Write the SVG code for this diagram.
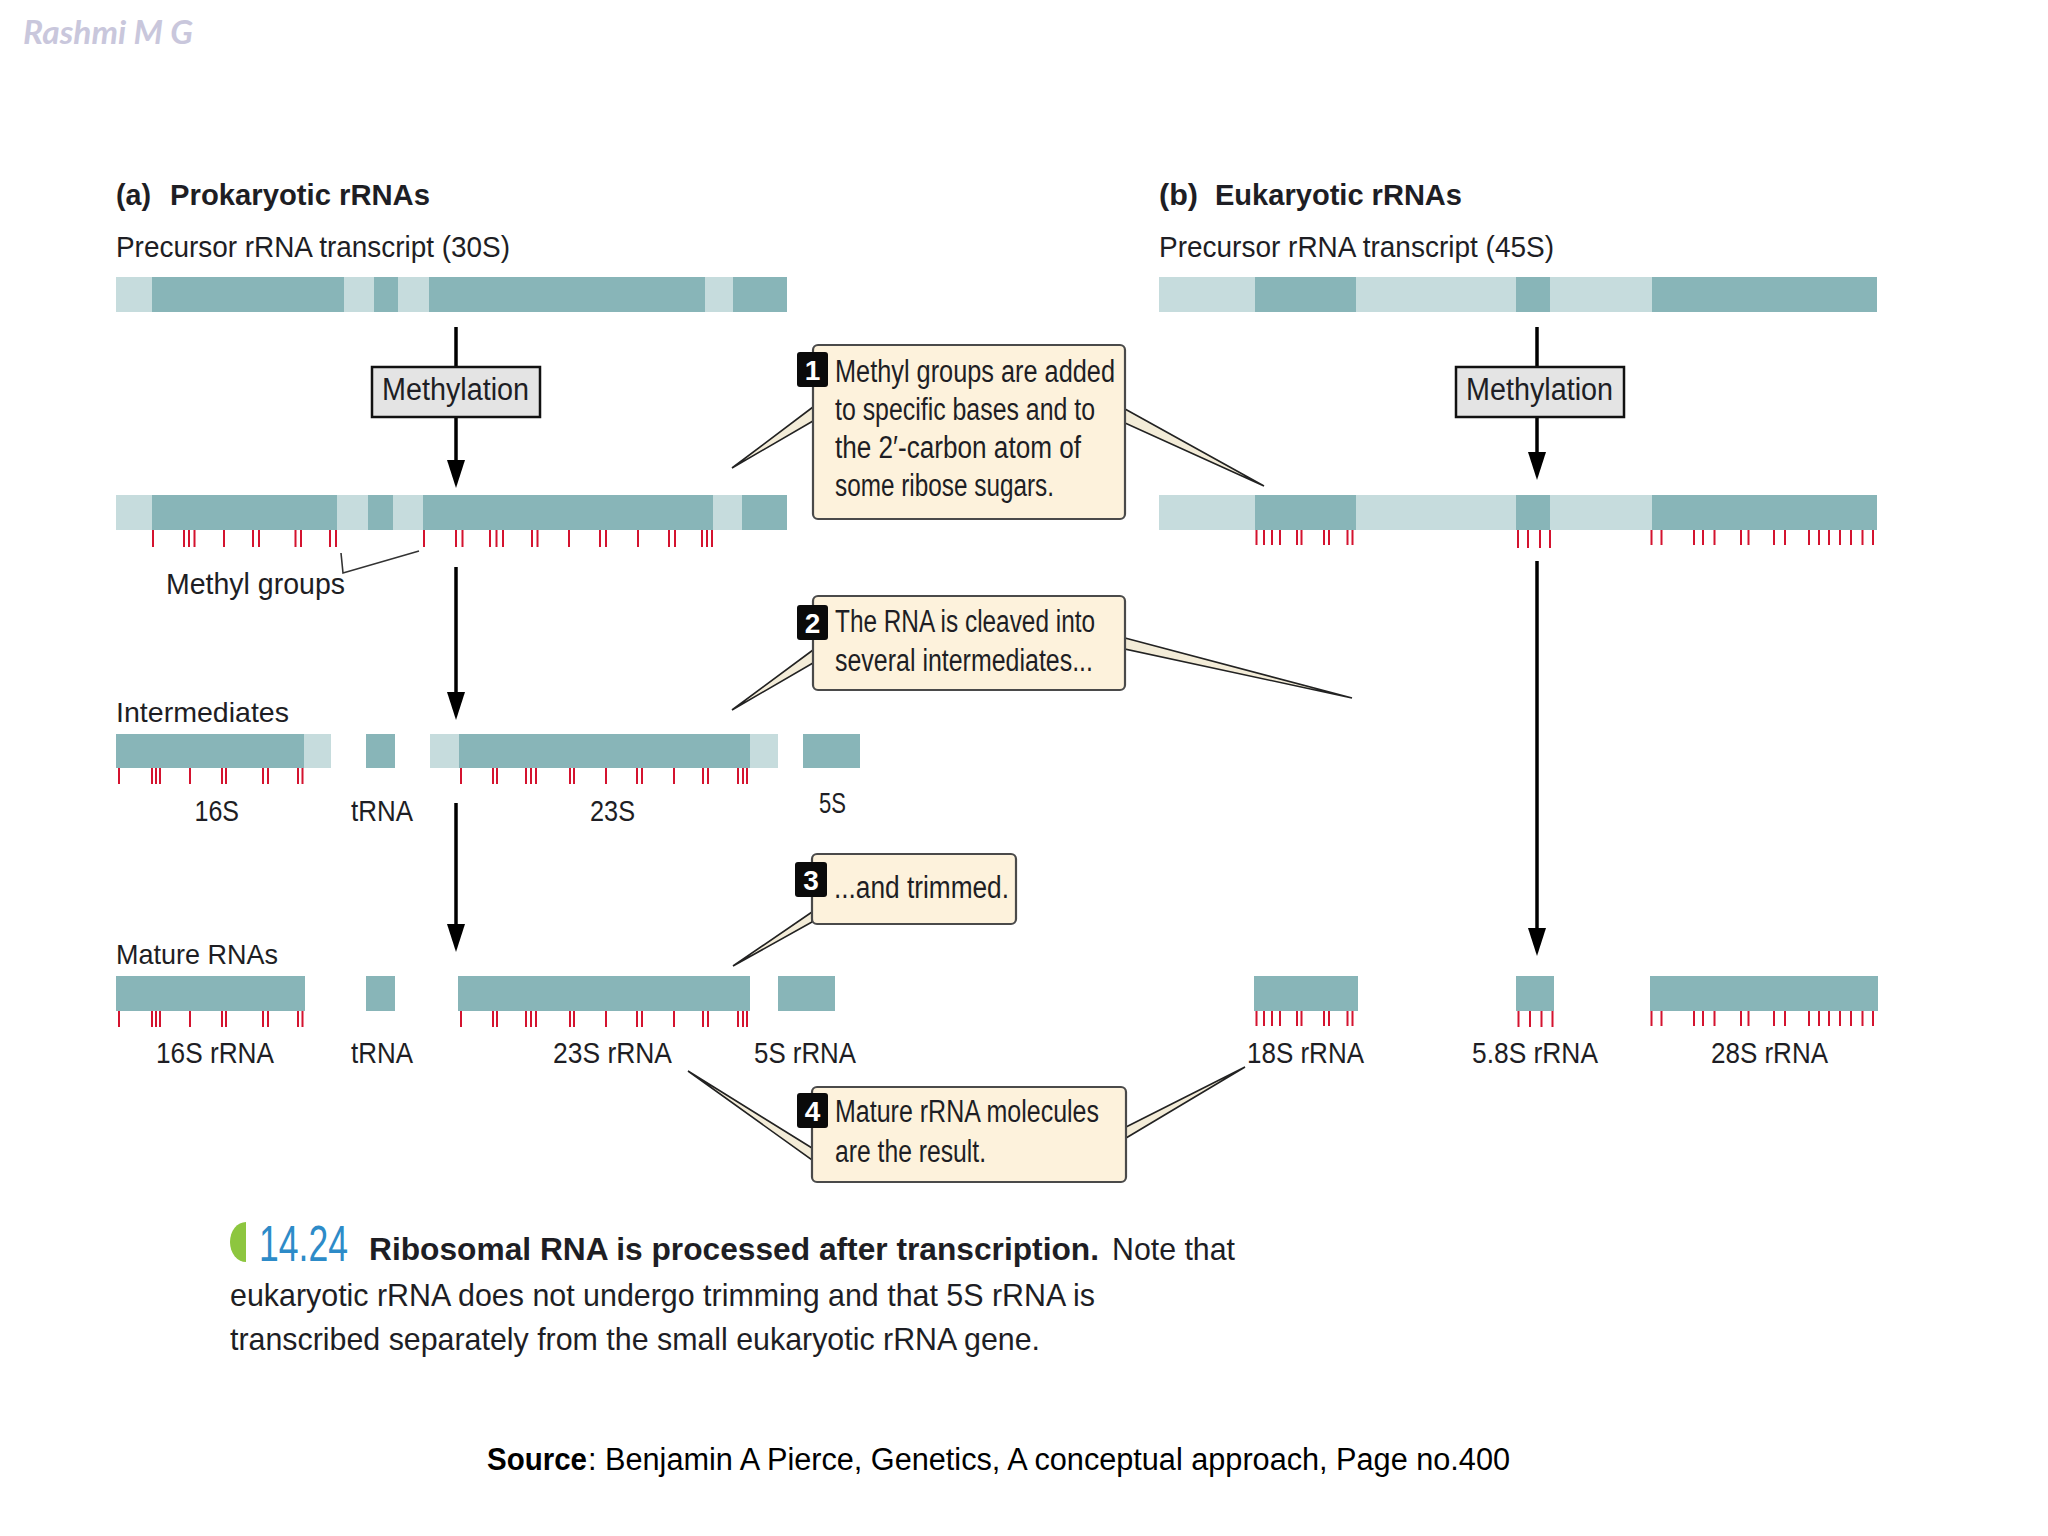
<svg xmlns="http://www.w3.org/2000/svg" width="2048" height="1536" viewBox="0 0 2048 1536">
<defs>
<style>
.dk{fill:#88b5b8}
.lt{fill:#c6dcdd}
.tk{stroke:#d4132f;stroke-width:2;fill:none}
.t{font-family:"Liberation Sans",Arial,sans-serif;fill:#1e1e24}
.b{font-weight:bold}
.arr{stroke:#000;stroke-width:3.5;fill:none}
.mbox{fill:#e4e4e4;stroke:#111;stroke-width:2.5}
.cbox{fill:#fdf2dc;stroke:#4a4a4a;stroke-width:2.2}
.badge{fill:#0a0a0a}
.bn{font-family:"Liberation Sans",Arial,sans-serif;font-weight:bold;fill:#fff;font-size:28px}
.wedge{fill:#f3ecd8;stroke:#222;stroke-width:1.6;stroke-linejoin:miter}
</style>
<marker id="ah" markerUnits="userSpaceOnUse" markerWidth="18" markerHeight="28" viewBox="0 0 18 28" refX="9" refY="8" orient="0">
<path d="M0,0 L18,0 L9,28 Z" fill="#000"/>
</marker>
</defs>
<rect width="2048" height="1536" fill="#fff"/>

<!-- watermark -->
<text x="23" y="44" font-family="Lato,'Liberation Sans',sans-serif" font-weight="bold" font-style="italic" font-size="32" fill="#c9c7dc" textLength="170" lengthAdjust="spacingAndGlyphs">Rashmi M G</text>

<!-- titles -->
<g id="title-a">
<text class="t b" x="116" y="205" font-size="30" textLength="35" lengthAdjust="spacingAndGlyphs">(a)</text>
<text class="t b" x="170" y="205" font-size="30" textLength="260" lengthAdjust="spacingAndGlyphs">Prokaryotic rRNAs</text>
<text class="t" x="116" y="257" font-size="30" textLength="394" lengthAdjust="spacingAndGlyphs">Precursor rRNA transcript (30S)</text>
</g>
<g id="title-b">
<text class="t b" x="1159" y="205" font-size="30" textLength="39" lengthAdjust="spacingAndGlyphs">(b)</text>
<text class="t b" x="1215" y="205" font-size="30" textLength="247" lengthAdjust="spacingAndGlyphs">Eukaryotic rRNAs</text>
<text class="t" x="1159" y="257" font-size="30" textLength="395" lengthAdjust="spacingAndGlyphs">Precursor rRNA transcript (45S)</text>
</g>

<!-- prokaryotic precursor -->
<g id="prok-precursor">
<rect class="lt" x="116" y="277" width="671" height="35"/>
<rect class="dk" x="152" y="277" width="192" height="35"/>
<rect class="dk" x="374" y="277" width="24" height="35"/>
<rect class="dk" x="429" y="277" width="276" height="35"/>
<rect class="dk" x="733" y="277" width="54" height="35"/>
</g>

<!-- prokaryotic methylated -->
<g id="prok-methylated">
<rect class="lt" x="116" y="495" width="671" height="35"/>
<rect class="dk" x="152" y="495" width="185" height="35"/>
<rect class="dk" x="368" y="495" width="25" height="35"/>
<rect class="dk" x="423" y="495" width="290" height="35"/>
<rect class="dk" x="742" y="495" width="45" height="35"/>
<path class="tk" d="M153,530V547M184,530V547M189,530V547M194.5,530V547M224,530V547M253,530V547M259,530V547M295.5,530V547M301,530V547M330,530V547M336,530V547M424,530V547M456,530V547M462.5,530V547M490,530V547M496.5,530V547M503,530V547M532,530V547M537.5,530V547M569,530V547M600,530V547M606,530V547M638,530V547M669,530V547M675,530V547M702,530V547M707,530V547M712,530V547"/>
<path d="M341,553 L343,573 L419,551" fill="none" stroke="#333" stroke-width="1.6"/>
<text class="t" x="166" y="594" font-size="29" textLength="179" lengthAdjust="spacingAndGlyphs">Methyl groups</text>
</g>

<!-- prokaryotic intermediates -->
<g id="prok-intermediates">
<text class="t" x="116" y="722" font-size="28" textLength="173" lengthAdjust="spacingAndGlyphs">Intermediates</text>
<rect class="dk" x="116" y="734" width="188" height="34"/>
<rect class="lt" x="304" y="734" width="27" height="34"/>
<rect class="dk" x="366" y="734" width="29" height="34"/>
<rect class="lt" x="430" y="734" width="29" height="34"/>
<rect class="dk" x="459" y="734" width="291" height="34"/>
<rect class="lt" x="750" y="734" width="28" height="34"/>
<rect class="dk" x="803" y="734" width="57" height="34"/>
<path class="tk" d="M119,768V784M152,768V784M156,768V784M160,768V784M190,768V784M222,768V784M226,768V784M263,768V784M268,768V784M298,768V784M302.5,768V784M461,768V784M493,768V784M497,768V784M526,768V784M531,768V784M536,768V784M570,768V784M574,768V784M606,768V784M637,768V784M642,768V784M674,768V784M703,768V784M708,768V784M738,768V784M743,768V784M747,768V784"/>
<text class="t" x="194.5" y="821" font-size="29" textLength="44.5" lengthAdjust="spacingAndGlyphs">16S</text>
<text class="t" x="351" y="821" font-size="29" textLength="62" lengthAdjust="spacingAndGlyphs">tRNA</text>
<text class="t" x="590" y="821" font-size="29" textLength="45" lengthAdjust="spacingAndGlyphs">23S</text>
<text class="t" x="819" y="813" font-size="29" textLength="27" lengthAdjust="spacingAndGlyphs">5S</text>
</g>

<!-- prokaryotic mature -->
<g id="prok-mature">
<text class="t" x="116" y="964" font-size="28" textLength="162" lengthAdjust="spacingAndGlyphs">Mature RNAs</text>
<rect class="dk" x="116" y="976" width="189" height="35"/>
<rect class="dk" x="366" y="976" width="29" height="35"/>
<rect class="dk" x="458" y="976" width="292" height="35"/>
<rect class="dk" x="778" y="976" width="57" height="35"/>
<path class="tk" d="M119,1011V1027M152,1011V1027M156,1011V1027M160,1011V1027M190,1011V1027M222,1011V1027M226,1011V1027M263,1011V1027M268,1011V1027M298,1011V1027M302.5,1011V1027M461,1011V1027M493,1011V1027M497,1011V1027M526,1011V1027M531,1011V1027M536,1011V1027M570,1011V1027M574,1011V1027M606,1011V1027M637,1011V1027M642,1011V1027M674,1011V1027M703,1011V1027M708,1011V1027M738,1011V1027M743,1011V1027M747,1011V1027"/>
<text class="t" x="156" y="1063" font-size="29" textLength="118" lengthAdjust="spacingAndGlyphs">16S rRNA</text>
<text class="t" x="351" y="1063" font-size="29" textLength="62" lengthAdjust="spacingAndGlyphs">tRNA</text>
<text class="t" x="553" y="1063" font-size="29" textLength="119" lengthAdjust="spacingAndGlyphs">23S rRNA</text>
<text class="t" x="754" y="1063" font-size="29" textLength="102" lengthAdjust="spacingAndGlyphs">5S rRNA</text>
</g>

<!-- eukaryotic precursor -->
<g id="euk-precursor">
<rect class="lt" x="1159" y="277" width="718" height="35"/>
<rect class="dk" x="1255" y="277" width="101" height="35"/>
<rect class="dk" x="1516" y="277" width="34" height="35"/>
<rect class="dk" x="1652" y="277" width="225" height="35"/>
</g>

<!-- eukaryotic methylated -->
<g id="euk-methylated">
<rect class="lt" x="1159" y="495" width="718" height="35"/>
<rect class="dk" x="1255" y="495" width="101" height="35"/>
<rect class="dk" x="1516" y="495" width="34" height="35"/>
<rect class="dk" x="1652" y="495" width="225" height="35"/>
<path class="tk" d="M1256.5,530V545M1264,530V545M1272,530V545M1280,530V545M1297,530V545M1301.5,530V545M1324,530V545M1329,530V545M1347.5,530V545M1352.5,530V545M1518,530V548M1528,530V548M1540,530V548M1550,530V548M1651.5,530V545M1661.5,530V545M1694,530V545M1703,530V545M1714.5,530V545M1741,530V545M1748.5,530V545M1774,530V545M1785,530V545M1809,530V545M1819,530V545M1829,530V545M1840,530V545M1851,530V545M1862.5,530V545M1873,530V545"/>
</g>

<!-- eukaryotic mature -->
<g id="euk-mature">
<rect class="dk" x="1254" y="976" width="104" height="35"/>
<rect class="dk" x="1516" y="976" width="38" height="35"/>
<rect class="dk" x="1650" y="976" width="228" height="35"/>
<path class="tk" d="M1256.5,1011V1026M1264,1011V1026M1272,1011V1026M1280,1011V1026M1297,1011V1026M1301.5,1011V1026M1324,1011V1026M1329,1011V1026M1347.5,1011V1026M1352.5,1011V1026M1518.5,1011V1027M1530,1011V1027M1541.5,1011V1027M1552.5,1011V1027M1651.5,1011V1026M1661.5,1011V1026M1694,1011V1026M1703,1011V1026M1714.5,1011V1026M1741,1011V1026M1748.5,1011V1026M1774,1011V1026M1785,1011V1026M1809,1011V1026M1819,1011V1026M1829,1011V1026M1840,1011V1026M1851,1011V1026M1862.5,1011V1026M1873,1011V1026"/>
<text class="t" x="1247" y="1063" font-size="29" textLength="117" lengthAdjust="spacingAndGlyphs">18S rRNA</text>
<text class="t" x="1472" y="1063" font-size="29" textLength="126" lengthAdjust="spacingAndGlyphs">5.8S rRNA</text>
<text class="t" x="1711" y="1063" font-size="29" textLength="117" lengthAdjust="spacingAndGlyphs">28S rRNA</text>
</g>

<!-- connectors -->
<g id="connectors">
<path class="arr" d="M456,327V367"/>
<path class="arr" d="M456,417V468" marker-end="url(#ah)"/>
<path class="arr" d="M456,567V700" marker-end="url(#ah)"/>
<path class="arr" d="M456,803V932" marker-end="url(#ah)"/>
<path class="arr" d="M1537,327V367"/>
<path class="arr" d="M1537,417V460" marker-end="url(#ah)"/>
<path class="arr" d="M1537,561V936" marker-end="url(#ah)"/>
<polygon class="wedge" points="813,407 732,468 813,421"/>
<polygon class="wedge" points="1125,409 1264,486 1125,423"/>
<polygon class="wedge" points="813,650 732,710 813,663"/>
<polygon class="wedge" points="1125,638 1352,698 1125,649"/>
<polygon class="wedge" points="812,912 733,966 812,922"/>
<polygon class="wedge" points="812,1148 688,1071 812,1160"/>
<polygon class="wedge" points="1126,1127 1245,1067 1126,1138"/>
</g>

<!-- methylation boxes -->
<g id="methylation-a">
<rect class="mbox" x="372" y="367" width="168" height="50"/>
<text class="t" x="382" y="400" font-size="31" textLength="147" lengthAdjust="spacingAndGlyphs">Methylation</text>
</g>
<g id="methylation-b">
<rect class="mbox" x="1456" y="367" width="168" height="50"/>
<text class="t" x="1466" y="400" font-size="31" textLength="147" lengthAdjust="spacingAndGlyphs">Methylation</text>
</g>

<!-- callouts -->
<g id="callout-1">
<rect class="cbox" x="813" y="345" width="312" height="174" rx="5"/>
<rect class="badge" x="797" y="352" width="31" height="35" rx="3"/>
<text class="bn" x="812.5" y="380" text-anchor="middle">1</text>
<text class="t" x="835" y="382" font-size="31" textLength="280" lengthAdjust="spacingAndGlyphs">Methyl groups are added</text>
<text class="t" x="835" y="420" font-size="31" textLength="260" lengthAdjust="spacingAndGlyphs">to specific bases and to</text>
<text class="t" x="835" y="458" font-size="31" textLength="246" lengthAdjust="spacingAndGlyphs">the 2′-carbon atom of</text>
<text class="t" x="835" y="496" font-size="31" textLength="219" lengthAdjust="spacingAndGlyphs">some ribose sugars.</text>
</g>
<g id="callout-2">
<rect class="cbox" x="813" y="596" width="312" height="94" rx="5"/>
<rect class="badge" x="797" y="605" width="31" height="35" rx="3"/>
<text class="bn" x="812.5" y="633" text-anchor="middle">2</text>
<text class="t" x="835" y="632" font-size="31" textLength="260" lengthAdjust="spacingAndGlyphs">The RNA is cleaved into</text>
<text class="t" x="835" y="671" font-size="31" textLength="258" lengthAdjust="spacingAndGlyphs">several intermediates...</text>
</g>
<g id="callout-3">
<rect class="cbox" x="812" y="854" width="204" height="70" rx="5"/>
<rect class="badge" x="795" y="862" width="32" height="35" rx="3"/>
<text class="bn" x="811" y="890" text-anchor="middle">3</text>
<text class="t" x="834" y="898" font-size="31" textLength="175" lengthAdjust="spacingAndGlyphs">...and trimmed.</text>
</g>
<g id="callout-4">
<rect class="cbox" x="812" y="1087" width="314" height="95" rx="5"/>
<rect class="badge" x="797" y="1093" width="31" height="35" rx="3"/>
<text class="bn" x="812.5" y="1121" text-anchor="middle">4</text>
<text class="t" x="835" y="1122" font-size="31" textLength="264" lengthAdjust="spacingAndGlyphs">Mature rRNA molecules</text>
<text class="t" x="835" y="1162" font-size="31" textLength="151" lengthAdjust="spacingAndGlyphs">are the result.</text>
</g>

<!-- caption -->
<g id="caption">
<path d="M246,1222 A16,20 0 0 0 246,1262 Z" fill="#8dc63f"/>
<text x="259" y="1261" font-family="'Liberation Sans',Arial,sans-serif" font-size="50" fill="#2d8bc8" textLength="89" lengthAdjust="spacingAndGlyphs">14.24</text>
<text class="t b" x="369" y="1260" font-size="32" textLength="730" lengthAdjust="spacingAndGlyphs">Ribosomal RNA is processed after transcription.</text>
<text class="t" x="1112" y="1260" font-size="32" textLength="123" lengthAdjust="spacingAndGlyphs">Note that</text>
<text class="t" x="230" y="1306" font-size="32" textLength="865" lengthAdjust="spacingAndGlyphs">eukaryotic rRNA does not undergo trimming and that 5S rRNA is</text>
<text class="t" x="230" y="1350" font-size="32" textLength="810" lengthAdjust="spacingAndGlyphs">transcribed separately from the small eukaryotic rRNA gene.</text>
</g>

<!-- source -->
<g id="source">
<text x="487" y="1470" font-family="'Liberation Sans',Arial,sans-serif" font-weight="bold" font-size="31" fill="#000" textLength="100" lengthAdjust="spacingAndGlyphs">Source</text>
<text x="588" y="1470" font-family="'Liberation Sans',Arial,sans-serif" font-size="31" fill="#000" textLength="922" lengthAdjust="spacingAndGlyphs">: Benjamin A Pierce, Genetics, A conceptual approach, Page no.400</text>
</g>
</svg>
